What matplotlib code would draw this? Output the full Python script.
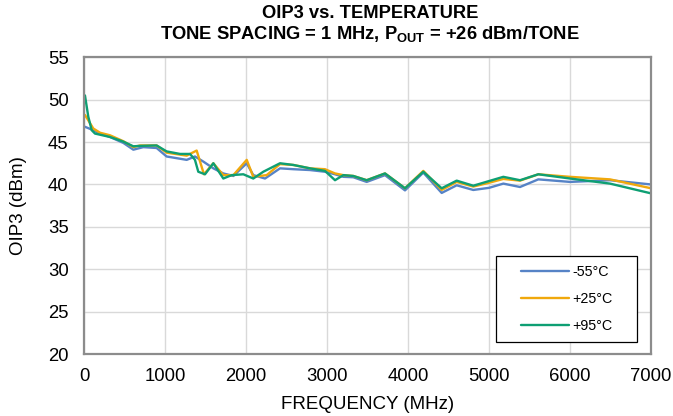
import matplotlib
matplotlib.use("Agg")
import matplotlib.pyplot as plt
import matplotlib.patches as patches

plt.rcParams["font.family"] = ["Liberation Sans", "DejaVu Sans"]
plt.rcParams["mathtext.fontset"] = "custom"
plt.rcParams["mathtext.rm"] = "Liberation Sans"
plt.rcParams["mathtext.bf"] = "Liberation Sans:bold"

# frequency (MHz) / OIP3 (dBm)
freq_m55 = [12, 115, 198, 321, 486, 609, 732, 897, 1020, 1268, 1370, 1473, 1597,
            1720, 1844, 2009, 2090, 2235, 2420, 2584, 2790, 2975, 3099, 3202,
            3325, 3490, 3716, 3963, 4189, 4416, 4601, 4806, 5000, 5177, 5383,
            5609, 6000, 6494, 7000]
oip3_m55 = [46.8, 46.4, 46.0, 45.6, 44.9, 44.1, 44.4, 44.3, 43.3, 42.9, 43.3, 42.7,
            41.9, 41.3, 41.0, 42.5, 41.1, 40.7, 41.9, 41.8, 41.7, 41.5, 41.2,
            40.9, 40.85, 40.3, 41.1, 39.3, 41.4, 39.0, 39.9, 39.35, 39.6, 40.1,
            39.7, 40.6, 40.3, 40.5, 40.0]

freq_p25 = [12, 115, 198, 321, 486, 609, 691, 897, 1020, 1268, 1391, 1481, 1597,
            1720, 1844, 2009, 2090, 2255, 2420, 2584, 2790, 2975, 3099, 3202,
            3325, 3490, 3716, 3963, 4189, 4416, 4601, 4806, 5000, 5177, 5383,
            5609, 6000, 6494, 7000]
oip3_p25 = [48.2, 46.6, 46.1, 45.8, 45.1, 44.4, 44.6, 44.6, 43.75, 43.4, 44.0, 41.2,
            42.5, 41.1, 41.1, 42.9, 40.9, 41.1, 42.4, 42.3, 41.9, 41.8, 41.3,
            41.1, 41.0, 40.5, 41.3, 39.55, 41.6, 39.35, 40.3, 39.75, 40.2, 40.65,
            40.45, 41.2, 40.9, 40.6, 39.55]

freq_p95 = [12, 53, 95, 136, 321, 486, 609, 691, 897, 1020, 1185, 1309, 1370, 1411,
            1494, 1597, 1720, 1823, 1967, 2090, 2214, 2420, 2584, 2790, 2975,
            3099, 3202, 3325, 3490, 3716, 3963, 4189, 4416, 4601, 4806, 5000,
            5177, 5383, 5609, 6000, 6494, 7000]
oip3_p95 = [50.5, 48.0, 46.4, 46.0, 45.6, 45.05, 44.5, 44.55, 44.6, 43.9, 43.6, 43.6,
            42.9, 41.5, 41.2, 42.5, 40.7, 41.1, 41.2, 40.7, 41.5, 42.5, 42.3,
            41.9, 41.6, 40.5, 41.1, 41.0, 40.5, 41.3, 39.55, 41.5, 39.55, 40.45,
            39.85, 40.4, 40.9, 40.5, 41.2, 40.7, 40.1, 38.95]

labels = ["-55°C", "+25°C", "+95°C"]
colors = ["#5683C6", "#F0A80C", "#0E9F73"]

x_ticks = [0, 1000, 2000, 3000, 4000, 5000, 6000, 7000]
y_ticks = [20, 25, 30, 35, 40, 45, 50, 55]

fig = plt.figure(figsize=(6.73, 4.16), dpi=100)
ax = fig.add_axes([0.1248, 0.149, 0.8425, 0.7133])

series = [(freq_m55, oip3_m55), (freq_p25, oip3_p25), (freq_p95, oip3_p95)]
for (f, v), lab, c in zip(series, labels, colors):
    ax.plot(f, v, color=c, lw=1.7, label=lab, solid_joinstyle="round",
            solid_capstyle="round")

ax.set_xlim(0, 7000)
ax.set_ylim(20, 55)
ax.set_xticks(x_ticks)
ax.set_yticks(y_ticks)
ax.grid(True, color="#D9D9D9", lw=1)
ax.set_axisbelow(True)
ax.tick_params(length=0, labelsize=13.3)
ax.tick_params(axis="x", pad=10)
ax.tick_params(axis="y", pad=11)
for s in ax.spines.values():
    s.set_color("#8C8C8C")
    s.set_linewidth(1.6)

ax.set_xlabel("FREQUENCY (MHz)", fontsize=13.5, labelpad=8)
ax.set_ylabel("OIP3 (dBm)", fontsize=13.5, labelpad=15)

# two title lines placed separately to get the tight line spacing
fig.text(0.5498, (416 - 18.5) / 416, "OIP3 vs. TEMPERATURE", ha="center",
         va="baseline", fontsize=13.2, fontweight="bold")
fig.text(0.5498, (416 - 39) / 416,
         r"TONE SPACING = 1 MHz, P$_{\mathbf{OUT}}$ = +26 dBm/TONE",
         ha="center", va="baseline", fontsize=13.2, fontweight="bold")

box = patches.Rectangle((0.726, 0.041), 0.25, 0.289, transform=ax.transAxes,
                        facecolor="white", edgecolor="black", lw=0.9, zorder=4)
ax.add_patch(box)
leg = ax.legend(loc="center", bbox_to_anchor=(0.851, 0.1855), frameon=False,
                fontsize=10.3, handlelength=3.4, handletextpad=0.2,
                labelspacing=0.93)
leg.set_zorder(5)

fig.savefig("out.png", dpi=100)
